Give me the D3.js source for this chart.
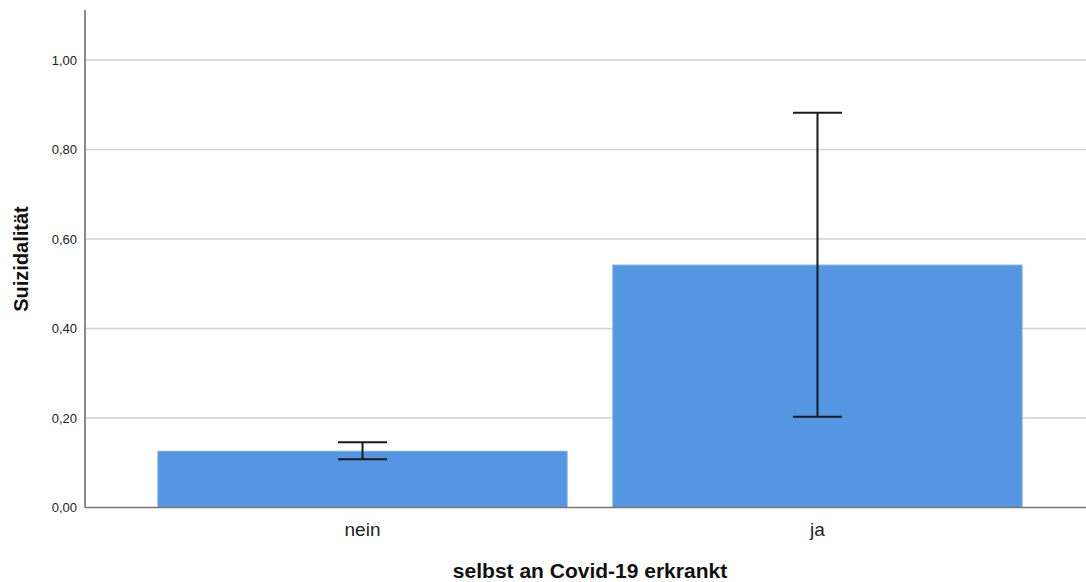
<!DOCTYPE html>
<html><head><meta charset="utf-8">
<script src="https://cdn.jsdelivr.net/npm/d3@7"></script>
<style>body{margin:0;background:#fff}svg{display:block;font-family:"Liberation Sans",Arial,sans-serif}</style>
</head><body>
<svg id="c" width="1086" height="582"></svg>
<script>
const categories = ["nein", "ja"];
const means = [0.126, 0.542];
const ciLow = [0.108, 0.203];
const ciHigh = [0.146, 0.882];
const yTicks = [0, 0.2, 0.4, 0.6, 0.8, 1.0];
const xTitle = "selbst an Covid-19 erkrankt";
const yTitle = "Suizidalität";

const svg = d3.select("#c");
const x0 = 85, yTop = 10, yBase = 507.5;
const y = d3.scaleLinear().domain([0, 1]).range([yBase, 60]);
const x = d3.scaleBand().domain(categories).range([x0, 1095]).paddingInner(0.1).paddingOuter(0.16);

// gridlines
svg.append("g").selectAll("line").data(yTicks.filter(d => d > 0)).join("line")
  .attr("x1", x0).attr("x2", 1086).attr("y1", d => y(d)).attr("y2", d => y(d))
  .attr("stroke", "#d2d2d2").attr("stroke-width", 1.5);

// bars
svg.append("g").selectAll("rect").data(categories).join("rect")
  .attr("x", d => x(d)).attr("width", x.bandwidth())
  .attr("y", (d, i) => y(means[i])).attr("height", (d, i) => yBase - y(means[i]))
  .attr("fill", "#5596e3").attr("stroke", "#8cb8ec").attr("stroke-width", 0.8);

// axes
svg.append("line").attr("x1", x0).attr("x2", x0).attr("y1", yTop).attr("y2", yBase)
  .attr("stroke", "#8a8a8a").attr("stroke-width", 2);
svg.append("line").attr("x1", x0).attr("x2", 1086).attr("y1", yBase).attr("y2", yBase)
  .attr("stroke", "#777").attr("stroke-width", 1.5);

// error bars
const eb = svg.append("g").attr("stroke", "#1a1a1a").attr("stroke-width", 2);
categories.forEach((c, i) => {
  const cx = x(c) + x.bandwidth() / 2;
  eb.append("line").attr("x1", cx).attr("x2", cx).attr("y1", y(ciLow[i])).attr("y2", y(ciHigh[i]));
  [ciLow[i], ciHigh[i]].forEach(v => {
    eb.append("line").attr("x1", cx - 24.5).attr("x2", cx + 24.5).attr("y1", y(v)).attr("y2", y(v));
  });
});

// y tick labels
const fmt = d => d3.format(".2f")(d).replace(".", ",");
svg.append("g").selectAll("text").data(yTicks).join("text")
  .attr("x", 77).attr("y", d => y(d)).attr("dy", "0.36em")
  .attr("text-anchor", "end").attr("font-size", 13).attr("fill", "#222")
  .text(fmt);

// x tick labels
svg.append("g").selectAll("text").data(categories).join("text")
  .attr("x", d => x(d) + x.bandwidth() / 2).attr("y", 536)
  .attr("text-anchor", "middle").attr("font-size", 19).attr("fill", "#222")
  .text(d => d);

// titles
svg.append("text").attr("x", 590).attr("y", 578).attr("text-anchor", "middle")
  .attr("font-size", 21).attr("font-weight", "bold").attr("fill", "#111").text(xTitle);
svg.append("text").attr("transform", "translate(28,259) rotate(-90)").attr("text-anchor", "middle")
  .attr("font-size", 20).attr("font-weight", "bold").attr("fill", "#111").text(yTitle);
</script>
</body></html>
